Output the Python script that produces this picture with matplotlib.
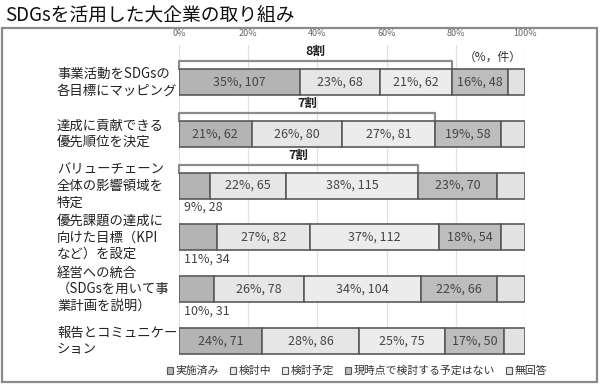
import matplotlib.pyplot as plt
import numpy as np
from matplotlib.patches import Rectangle, Patch

plt.rcParams['font.family'] = ['Noto Sans CJK JP', 'DejaVu Sans']

categories = [
    "事業活動をSDGsの\n各目標にマッピング",
    "達成に貢献できる\n優先順位を決定",
    "バリューチェーン\n全体の影響領域を\n特定",
    "優先課題の達成に\n向けた目標（KPI\nなど）を設定",
    "経営への統合\n（SDGsを用いて事\n業計画を説明）",
    "報告とコミュニケー\nション",
]
series_names = ["実施済み", "検討中", "検討予定", "現時点で検討する予定はない", "無回答"]

done_pct = [35, 21, 9, 11, 10, 24]
done_n = [107, 62, 28, 34, 31, 71]
considering_pct = [23, 26, 22, 27, 26, 28]
considering_n = [68, 80, 65, 82, 78, 86]
planned_pct = [21, 27, 38, 37, 34, 25]
planned_n = [62, 81, 115, 112, 104, 75]
no_plan_pct = [16, 19, 23, 18, 22, 17]
no_plan_n = [48, 58, 70, 54, 66, 50]

bracket_rows = [0, 1, 2]
bracket_labels = ["8割", "7割", "7割"]

ticks = [0, 20, 40, 60, 80, 100]

colors = ["#b4b4b4", "#e6e6e6", "#ececec", "#bdbdbd", "#e2e2e2"]

pcts = np.array([done_pct, considering_pct, planned_pct, no_plan_pct], dtype=float)
counts = [done_n, considering_n, planned_n, no_plan_n]
no_answer = 100 - pcts.sum(axis=0)
all_pcts = np.vstack([pcts, no_answer])

fig = plt.figure(figsize=(6, 3.84), dpi=100)
fig.patches.append(Rectangle((2 / 600, 2 / 384), 595 / 600, 354 / 384,
                             transform=fig.transFigure, fill=False,
                             edgecolor="#8a8a8a", lw=1.6))
fig.text(5 / 600, 1 - 15 / 384, "SDGsを活用した大企業の取り組み",
         fontsize=13.5, va="center", ha="left", color="#111")

ax = fig.add_axes([179 / 600, 1 - 355 / 384, 346 / 600, 310 / 384])
y = np.arange(len(categories))
h = 0.5
left = np.zeros(len(categories))
for i, (vals, col) in enumerate(zip(all_pcts, colors)):
    ax.barh(y, vals, left=left, height=h, color=col, edgecolor="#5a5a5a",
            lw=1.2, label=series_names[i], zorder=3)
    if i < 4:
        for j, v in enumerate(vals):
            txt = f"{int(v)}%, {counts[i][j]}"
            if v >= 12:
                ax.text(left[j] + v / 2, y[j], txt, ha="center", va="center",
                        fontsize=9, color="#444", zorder=4)
            else:
                ax.text(left[j] + 1.5, y[j] + h / 2 + 0.05, txt, ha="left",
                        va="top", fontsize=9, color="#444", zorder=4)
    left += vals

cum3 = pcts[:3].sum(axis=0)
for r, lab in zip(bracket_rows, bracket_labels):
    yb = y[r] - h / 2 - 0.15
    ax.plot([0, 0, cum3[r], cum3[r]], [y[r] - h / 2, yb, yb, y[r] - h / 2],
            color="#8c8c8c", lw=1.6, zorder=2, clip_on=False)
    ax.text(cum3[r] / 2, yb - 0.06, lab, ha="center", va="bottom",
            fontsize=9, fontweight="bold", color="#222")

ax.set_xlim(0, 100)
ax.set_ylim(5.27, -0.714)
ax.set_yticks(y)
ax.set_yticklabels([])
for j, cat in enumerate(categories):
    ax.text(-122 / 3.46, y[j], cat, ha="left", va="center", fontsize=9.6,
            linespacing=1.25, color="#222")
ax.xaxis.tick_top()
ax.set_xticks(ticks)
ax.set_xticklabels([f"{t}%" for t in ticks], fontsize=6.5, color="#666")
ax.tick_params(length=0, pad=5)
ax.grid(axis="x", color="#e2e2e2", lw=0.9, zorder=0)
for s in ax.spines.values():
    s.set_visible(False)
ax.text(99, -0.47, "（%，件）", ha="right", va="center", fontsize=8.5, color="#333")

handles = [Patch(facecolor=c, edgecolor="#555", lw=0.8) for c in colors]
fig.legend(handles, series_names, loc="center", ncol=5,
           bbox_to_anchor=(357 / 600, 1 - 371 / 384), frameon=False,
           fontsize=7.8, handlelength=0.6, handleheight=0.6,
           handletextpad=0.2, columnspacing=1.0, labelcolor="#333")

fig.savefig("out.png", dpi=100)
